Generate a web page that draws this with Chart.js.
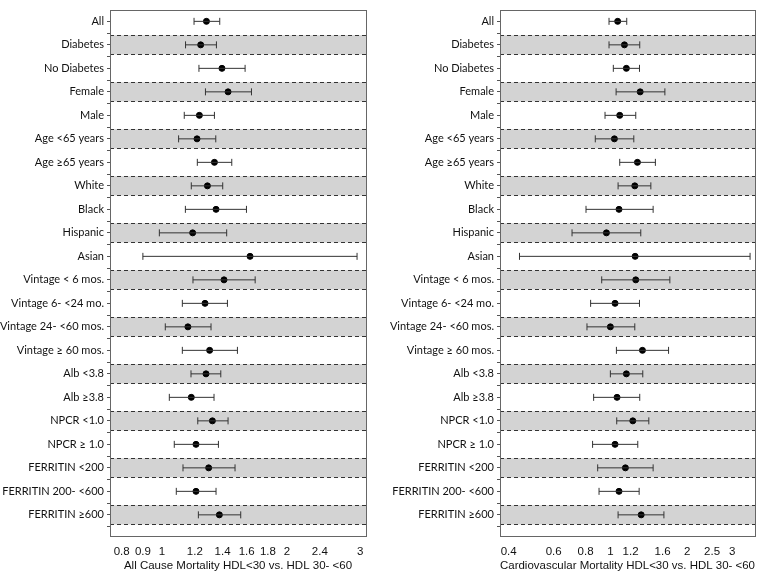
<!DOCTYPE html>
<html lang="en">
  <head>
    <meta charset="UTF-8" />
    <title>HDL forest plots</title>
    <script src="https://cdn.jsdelivr.net/npm/chart.js@4.4.1/dist/chart.umd.min.js"></script>
  </head>
  <body>
    <div id="wrapLeft" class="wrap"><canvas id="chartLeft"></canvas></div>
    <div id="wrapRight" class="wrap"><canvas id="chartRight"></canvas></div>

    <script>
      // subgroups, top to bottom
      const groups = ['All', 'Diabetes', 'No Diabetes', 'Female', 'Male', 'Age <65 years', 'Age \u226565 years',
        'White', 'Black', 'Hispanic', 'Asian', 'Vintage < 6 mos.', 'Vintage 6- <24 mo.', 'Vintage 24- <60 mos.',
        'Vintage \u2265 60 mos.', 'Alb <3.8', 'Alb \u22653.8', 'NPCR <1.0', 'NPCR \u2265 1.0', 'FERRITIN <200',
        'FERRITIN 200- <600', 'FERRITIN \u2265600'];

      // all cause mortality hazard ratios
      const allHR = [1.28, 1.24, 1.395, 1.443, 1.231, 1.215, 1.338, 1.287, 1.35, 1.186, 1.63, 1.411, 1.27, 1.155,
        1.303, 1.277, 1.177, 1.323, 1.208, 1.296, 1.208, 1.375];
      const allLow = [1.195, 1.14, 1.228, 1.273, 1.132, 1.097, 1.217, 1.177, 1.139, 0.986, 0.90, 1.188, 1.12, 1.019,
        1.12, 1.175, 1.042, 1.22, 1.071, 1.124, 1.083, 1.224];
      const allHigh = [1.378, 1.353, 1.586, 1.643, 1.338, 1.348, 1.473, 1.401, 1.598, 1.432, 2.95, 1.677, 1.438, 1.313,
        1.52, 1.386, 1.335, 1.443, 1.368, 1.50, 1.35, 1.548];

      // cardiovascular mortality hazard ratios
      const cvHR = [1.068, 1.135, 1.155, 1.308, 1.088, 1.037, 1.276, 1.246, 1.081, 0.965, 1.25, 1.257, 1.043, 1.0,
        1.335, 1.155, 1.062, 1.224, 1.043, 1.145, 1.081, 1.32];
      const cvLow = [0.988, 0.988, 1.027, 1.053, 0.953, 0.873, 1.088, 1.072, 0.803, 0.708, 0.441, 0.925, 0.837, 0.81,
        1.056, 1.0, 0.86, 1.059, 0.852, 0.892, 0.903, 1.072];
      const cvHigh = [1.159, 1.303, 1.3, 1.634, 1.257, 1.235, 1.50, 1.44, 1.47, 1.315, 3.52, 1.709, 1.3, 1.246,
        1.689, 1.339, 1.303, 1.414, 1.28, 1.47, 1.296, 1.62];

      const allTicks = [0.8, 0.9, 1, 1.2, 1.4, 1.6, 1.8, 2, 2.4, 3];
      const cvTicks = [0.4, 0.6, 0.8, 1, 1.2, 1.6, 2, 2.5, 3];

      // grey bands with dashed edges on every other row + frame round the plot
      const bandPlugin = {
        id: 'bands',
        beforeDatasetsDraw(chart) {
          const { ctx, chartArea: a, scales } = chart;
          const y = scales.y;
          ctx.save();
          for (let i = 1; i < groups.length; i += 2) {
            const top = y.getPixelForValue(i - 0.41);
            const bot = y.getPixelForValue(i + 0.41);
            ctx.fillStyle = '#d3d3d3';
            ctx.fillRect(a.left, top, a.right - a.left, bot - top);
            ctx.strokeStyle = '#333';
            ctx.lineWidth = 1;
            ctx.setLineDash([4, 3]);
            ctx.beginPath();
            ctx.moveTo(a.left, Math.round(top) + 0.5);
            ctx.lineTo(a.right, Math.round(top) + 0.5);
            ctx.moveTo(a.left, Math.round(bot) + 0.5);
            ctx.lineTo(a.right, Math.round(bot) + 0.5);
            ctx.stroke();
          }
          ctx.setLineDash([]);
          ctx.strokeStyle = '#666';
          ctx.strokeRect(Math.round(a.left) + 0.5, Math.round(a.top) + 0.5,
            Math.round(a.right - a.left), Math.round(a.bottom - a.top));
          ctx.restore();
        }
      };

      function makeChart(id, hr, low, high, tickVals, xmin, xmax, yWidth, padRight, title) {
        // whiskers as one line dataset, broken between rows
        const bars = [];
        for (let i = 0; i < hr.length; i++) {
          bars.push({ x: low[i], y: i }, { x: high[i], y: i }, { x: null, y: null });
        }
        const points = hr.map((v, i) => ({ x: v, y: i }));

        return new Chart(document.getElementById(id), {
          type: 'scatter',
          data: {
            datasets: [{
              data: bars,
              showLine: true,
              spanGaps: false,
              borderColor: '#333',
              borderWidth: 1,
              pointStyle: 'line',
              rotation: 90,
              pointRadius: 3.5,
              pointBorderColor: '#333',
              pointBorderWidth: 1
            }, {
              data: points,
              pointRadius: 3,
              pointBackgroundColor: '#000',
              pointBorderColor: '#000'
            }]
          },
          options: {
            responsive: true,
            maintainAspectRatio: false,
            animation: false,
            layout: { padding: { top: 3, right: padRight, left: 0, bottom: 0 } },
            plugins: { legend: { display: false }, tooltip: { enabled: false } },
            scales: {
              x: {
                type: 'logarithmic',
                min: xmin,
                max: xmax,
                afterBuildTicks: s => { s.ticks = tickVals.map(v => ({ value: v })); },
                afterFit: s => { s.height = 38; },
                grid: { display: false },
                border: { display: false },
                ticks: {
                  color: '#111',
                  font: { family: 'Liberation Sans, Arial', size: 11.5 },
                  padding: 1,
                  maxRotation: 0,
                  autoSkip: false,
                  callback: v => String(v)
                },
                title: {
                  display: true,
                  text: title,
                  color: '#111',
                  font: { family: 'Liberation Sans, Arial', size: 11.5 },
                  padding: { top: 0, bottom: 1 }
                }
              },
              y: {
                type: 'linear',
                reverse: true,
                min: -0.5,
                max: 21.9,
                afterBuildTicks: s => {
                  const t = [];
                  for (let i = 0; i < groups.length; i++) t.push({ value: i }, { value: i + 0.5 });
                  s.ticks = t;
                },
                afterFit: s => { s.width = yWidth; },
                grid: { drawOnChartArea: false, tickLength: 3, color: '#555' },
                border: { display: false },
                ticks: {
                  color: '#111',
                  padding: 3,
                  autoSkip: false,
                  font: { family: 'Lato', size: 11 },
                  callback: v => Number.isInteger(v) ? groups[v] : ''
                }
              }
            }
          },
          plugins: [bandPlugin]
        });
      }

      makeChart('chartLeft', allHR, allLow, allHigh, allTicks, 0.75, 3.1, 110, 14,
        'All Cause Mortality HDL<30 vs. HDL 30- <60');
      makeChart('chartRight', cvHR, cvLow, cvHigh, cvTicks, 0.37, 3.68, 120, 6,
        'Cardiovascular Mortality HDL<30 vs. HDL 30- <60');
    </script>

    <style>
      body { margin: 0; background: #fff; }
      .wrap { position: absolute; top: 0; height: 574px; }
      #wrapLeft { left: 0; width: 380px; }
      #wrapRight { left: 380px; width: 381px; }
    </style>
  </body>
</html>
